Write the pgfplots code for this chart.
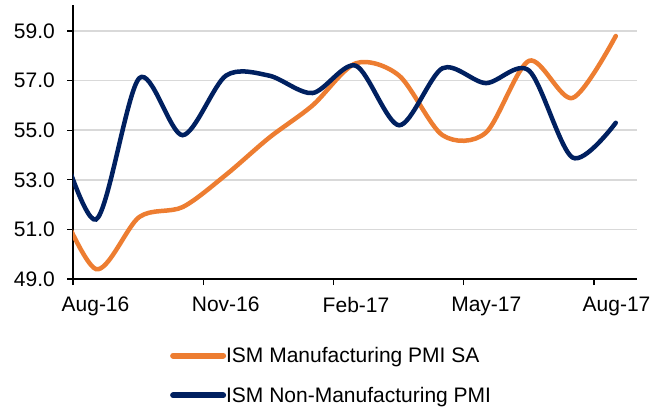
\documentclass[border=0pt]{standalone}
\usepackage{fontspec}
\setmainfont{Liberation Sans}
\usepackage{pgfplots}
\pgfplotsset{compat=1.18}
\definecolor{mfg}{RGB}{237,125,49}
\definecolor{nonmfg}{RGB}{0,32,96}
\definecolor{gridgray}{RGB}{217,217,217}

\begin{document}
\begin{tikzpicture}
\begin{axis}[
    scale only axis,
    width=564bp, height=274bp,
    xmin=-0.53, xmax=12.49,
    ymin=49, ymax=60.05,
    axis lines*=left,
    axis line style={line width=1.3bp, black},
    ytick={49,51,...,59},
    % ticks sit at month boundaries, labels are centred on the month
    xtick={-0.53,2.477,5.484,8.491,11.498},
    xticklabels={Aug-16,Nov-16,Feb-17,May-17,Aug-17},
    tick align=outside,
    major tick length=6bp,
    tick style={line width=1.3bp, black},
    ymajorgrids,
    grid style={gridgray, line width=1.5bp},
    every tick label/.append style={font=\fontsize{21bp}{25bp}\selectfont},
    yticklabel style={inner sep=0pt, xshift=-12bp,
        /pgf/number format/.cd, fixed, fixed zerofill, precision=1, assume math mode=true},
    xticklabel style={inner sep=0pt, yshift=-12bp, xshift=22.5bp},
    legend style={at={(0.1666,-0.241)}, anchor=north west, draw=none, fill=none,
        font=\fontsize{21bp}{25bp}\selectfont, row sep=23bp,
        nodes={inner sep=0pt},
        /tikz/every even column/.append style={column sep=6bp}},
    legend cell align=left,
    legend image code/.code={\draw[#1, line width=6bp, line cap=round] (0bp,0bp) -- (50bp,0bp);},
]
% Jul-16 point (x=-1) is only there so the curve enters the axis as in the source
\addplot[mfg, line width=4.5bp, smooth, line cap=round] coordinates {
    (-1, 52.6) (0, 49.4) (1, 51.5) (2, 51.9) (3, 53.2) (4, 54.7) (5, 56.0)
    (6, 57.7) (7, 57.2) (8, 54.8) (9, 54.9) (10, 57.8) (11, 56.3) (12, 58.8)
};
\addlegendentry{ISM Manufacturing PMI SA}
\addplot[nonmfg, line width=4.5bp, smooth, line cap=round] coordinates {
    (-1, 55.5) (0, 51.4) (1, 57.1) (2, 54.8) (3, 57.2) (4, 57.2) (5, 56.5)
    (6, 57.6) (7, 55.2) (8, 57.5) (9, 56.9) (10, 57.4) (11, 53.9) (12, 55.3)
};
\addlegendentry{ISM Non-Manufacturing PMI}
\end{axis}
\pgfresetboundingbox
\path[use as bounding box] ([shift={(-73bp,-128bp)}]current axis.south west) rectangle ++(663bp,407bp);
\end{tikzpicture}
\end{document}
